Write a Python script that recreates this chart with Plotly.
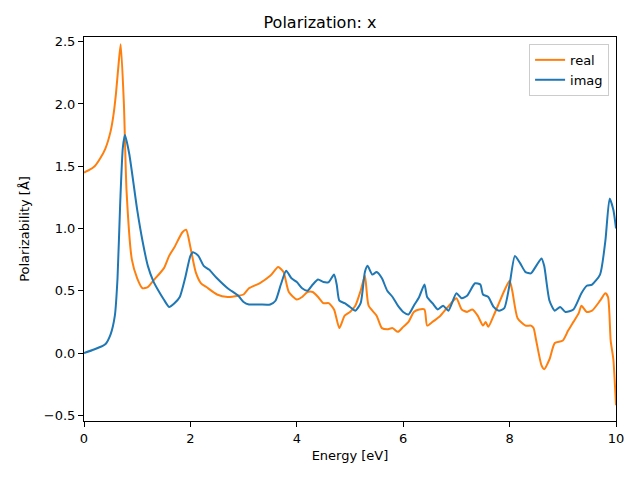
import plotly.graph_objects as go

energy_real = [0.0, 0.1, 0.2, 0.3, 0.4, 0.5, 0.55, 0.6, 0.65, 0.69, 0.75, 0.8, 0.9, 1.0, 1.1, 1.2, 1.3, 1.5, 1.6, 1.7, 1.85, 1.92,
               2.0, 2.1, 2.2, 2.3, 2.5, 2.7, 2.9, 3.0, 3.1, 3.3, 3.5, 3.65, 3.75, 3.85, 4.0, 4.1, 4.2, 4.3,
               4.4, 4.5, 4.6, 4.7, 4.8, 4.9, 5.0, 5.1, 5.2, 5.28, 5.35, 5.5, 5.6, 5.7, 5.8, 5.9, 6.0, 6.1,
               6.2, 6.3, 6.4, 6.45, 6.55, 6.7, 6.8, 6.9, 7.0, 7.1, 7.2, 7.3, 7.4, 7.5, 7.55, 7.6, 7.7, 7.8,
               7.9, 8.0, 8.05, 8.15, 8.3, 8.4, 8.45, 8.5, 8.6, 8.65, 8.75, 8.85, 9.0, 9.1, 9.2, 9.3, 9.35,
               9.45, 9.55, 9.7, 9.8, 9.85, 9.9, 9.95, 10.0]
real_vals = [1.45, 1.47, 1.5, 1.56, 1.64, 1.78, 1.9, 2.08, 2.32, 2.48, 2.0, 1.3, 0.75, 0.6, 0.52, 0.53, 0.58, 0.68, 0.78, 0.85, 0.97, 0.99,
             0.85, 0.65, 0.56, 0.53, 0.47, 0.45, 0.46, 0.47, 0.52, 0.56, 0.62, 0.69, 0.65, 0.49, 0.43, 0.45, 0.49, 0.49,
             0.45, 0.4, 0.4, 0.35, 0.2, 0.3, 0.33, 0.38, 0.5, 0.62, 0.38, 0.3, 0.2, 0.19, 0.2, 0.17, 0.21, 0.25,
             0.33, 0.35, 0.35, 0.22, 0.25, 0.3, 0.35, 0.4, 0.44, 0.35, 0.33, 0.35, 0.3, 0.22, 0.25, 0.21, 0.3, 0.4,
             0.5, 0.58, 0.5, 0.28, 0.22, 0.22, 0.2, 0.1, -0.1, -0.13, -0.05, 0.08, 0.1, 0.18, 0.25, 0.32, 0.38,
             0.33, 0.34, 0.42, 0.48, 0.45, 0.1, -0.05, -0.42]

energy_imag = [0.0, 0.2, 0.4, 0.5, 0.58, 0.63, 0.68, 0.73, 0.77, 0.85, 1.0, 1.1, 1.2, 1.3, 1.4, 1.5, 1.6, 1.7,
               1.8, 1.9, 2.0, 2.05, 2.15, 2.25, 2.35, 2.5, 2.7, 2.9, 3.0, 3.1, 3.3, 3.5, 3.6, 3.7, 3.8, 3.9,
               4.0, 4.1, 4.2, 4.3, 4.4, 4.5, 4.6, 4.7, 4.75, 4.8, 4.9, 5.0, 5.1, 5.2, 5.28, 5.33, 5.42, 5.5,
               5.6, 5.7, 5.8, 5.9, 6.0, 6.1, 6.2, 6.3, 6.4, 6.45, 6.55, 6.65, 6.75, 6.85, 7.0, 7.1, 7.2, 7.35,
               7.45, 7.5, 7.6, 7.7, 7.8, 7.9, 8.0, 8.1, 8.2, 8.3, 8.4, 8.5, 8.6, 8.65, 8.75, 8.85, 8.95, 9.05,
               9.2, 9.35, 9.45, 9.55, 9.7, 9.8, 9.88, 9.95, 10.0]
imag_vals = [0.0, 0.03, 0.07, 0.15, 0.3, 0.6, 1.2, 1.65, 1.75, 1.6, 1.15, 0.9, 0.7, 0.58, 0.5, 0.43, 0.37, 0.4,
             0.45, 0.6, 0.78, 0.81, 0.78, 0.7, 0.67, 0.6, 0.52, 0.46, 0.41, 0.39, 0.39, 0.39, 0.42, 0.55, 0.66, 0.6,
             0.57, 0.52, 0.5, 0.55, 0.59, 0.57, 0.57, 0.63, 0.55, 0.42, 0.4, 0.37, 0.34, 0.4, 0.65, 0.7, 0.63, 0.65,
             0.6, 0.5, 0.45, 0.38, 0.33, 0.31, 0.38, 0.45, 0.55, 0.45, 0.4, 0.35, 0.38, 0.34, 0.48, 0.44, 0.46, 0.56,
             0.55, 0.47, 0.45, 0.37, 0.34, 0.36, 0.55, 0.78, 0.72, 0.65, 0.64, 0.7, 0.76, 0.7, 0.42, 0.34, 0.37, 0.33,
             0.35, 0.48, 0.54, 0.55, 0.63, 0.9, 1.24, 1.15, 1.0]

x_ticks = [0, 2, 4, 6, 8, 10]
y_ticks = [-0.5, 0.0, 0.5, 1.0, 1.5, 2.0, 2.5]

fig = go.Figure()
fig.add_trace(go.Scatter(x=energy_real, y=real_vals, mode="lines", name="real",
                         line=dict(color="#ff7f0e", width=2, shape="spline", smoothing=0.6)))
fig.add_trace(go.Scatter(x=energy_imag, y=imag_vals, mode="lines", name="imag",
                         line=dict(color="#1f77b4", width=2, shape="spline", smoothing=0.6)))

axis_common = dict(showline=True, linecolor="black", linewidth=1, mirror=True, ticks="outside",
                   ticklen=5, tickwidth=1, tickcolor="black", showgrid=False, zeroline=False,
                   tickfont=dict(size=13, color="black"))

fig.update_layout(
    width=640, height=480,
    margin=dict(l=84, r=24, t=37, b=59),
    paper_bgcolor="white", plot_bgcolor="white",
    font=dict(family="DejaVu Sans", color="black"),
    title=dict(text="Polarization: x", x=0.5, xanchor="center", y=1 - 22 / 480, yanchor="middle",
               font=dict(size=16, color="black")),
    xaxis=dict(range=[0, 10], tickvals=x_ticks, title=dict(text="Energy [eV]", font=dict(size=13), standoff=6),
               **axis_common),
    yaxis=dict(range=[-0.546, 2.538], tickvals=y_ticks, tickformat=".1f",
               title=dict(text="Polarizability [Å]", font=dict(size=13), standoff=11), **axis_common),
    legend=dict(x=0.987, y=0.982, xanchor="right", yanchor="top", bordercolor="#cccccc", borderwidth=1,
                bgcolor="rgba(255,255,255,0.8)", font=dict(size=13), tracegroupgap=0),
    showlegend=True,
)

fig.write_html("out.html", config={"displayModeBar": False},
               post_script="document.body.style.margin='0';")
